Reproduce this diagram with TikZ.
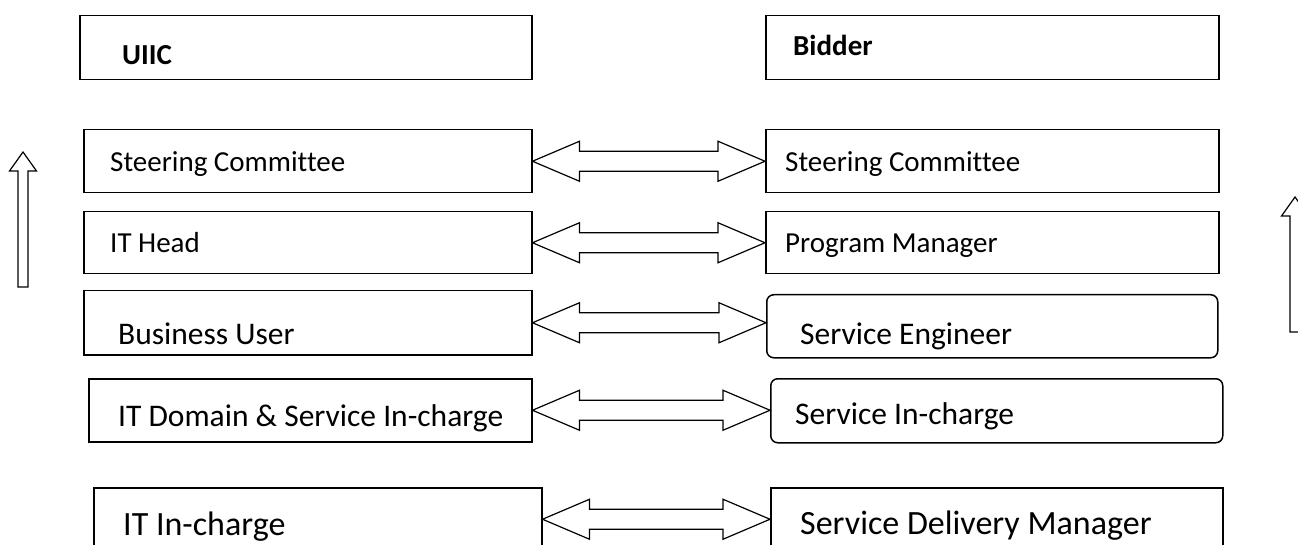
\documentclass[tikz,border=0pt]{standalone}
\usepackage{fontspec}
\setmainfont[Ligatures=NoCommon]{Carlito}
\usepackage{tikz}
\usetikzlibrary{calc}

% hollow two-headed arrow from one box to the other
\newcommand{\twoway}[2]{%
  \draw[hollow] let \p1=(#1.east), \p2=(#2.west) in
    (\x1,\y1) -- ++(47pt,20pt) -- ++(0pt,-10pt) -- (\x2-47pt,\y1+10pt)
    -- ++(0pt,10pt) -- (\x2,\y1) -- ++(-47pt,-20pt) -- ++(0pt,10pt)
    -- (\x1+47pt,\y1-10pt) -- ++(0pt,-10pt) -- cycle;}
% hollow upward arrow: x, tip y, foot y
\newcommand{\uparr}[3]{%
  \draw[hollow] (#1,#2) -- ++(13.5,19) -- ++(-8.5,0) -- (#1+5,#3)
    -- (#1-5,#3) -- (#1-5,#2+19) -- ++(-8.5,0) -- cycle;}

\begin{document}
\begin{tikzpicture}[x=1pt,y=-1pt,line join=miter]
        \tikzstyle{box}=[draw,line width=1.5pt,anchor=north west,inner sep=0pt,
                         minimum height=63pt]
        \tikzstyle{snip}=[box,rounded corners=7pt]
        \tikzstyle{txt}=[anchor=base west,inner sep=0pt,font=\fontsize{29}{34}\selectfont]
        \tikzstyle{txtm}=[txt,font=\fontsize{31.5}{36}\selectfont]
        \tikzstyle{txtl}=[txt,font=\fontsize{34}{38}\selectfont]
        \tikzstyle{head}=[txt,font=\fontsize{29}{32}\selectfont\bfseries]
        \tikzstyle{hollow}=[draw=black,fill=white,line width=1.2pt]

        \useasboundingbox (0,0) rectangle (1298,545);

        % column heads
        \node[box,minimum width=452pt,minimum height=64pt] (uiic)   at (79,15)  {};
        \node[box,minimum width=453pt,minimum height=64pt] (bidder) at (765,15) {};
        \node[head] (uiict)   at (122,65) {UIIC};
        \node[head] (biddert) at (793,56) {Bidder};

        % UIIC side
        \node[box,minimum width=448pt] (lsteer)  at (83,129) {};
        \node[box,minimum width=448pt,minimum height=62pt] (ithead) at (83,211) {};
        \node[box,minimum width=448pt,minimum height=64pt] (bususer) at (83,290) {};
        \node[box,minimum width=443pt] (itdomain) at (88,378) {};
        \node[box,minimum width=448pt] (itinc)    at (93,487) {};

        % bidder side
        \node[box,minimum width=453pt] (rsteer)  at (765,129) {};
        \node[box,minimum width=453pt,minimum height=62pt] (progman) at (765,211) {};
        \node[snip,minimum width=451pt] (serveng) at (766,294) {};
        \node[snip,minimum width=452pt,minimum height=64pt] (servinc) at (770,378) {};
        \node[box,minimum width=452pt] (sdm)     at (770,487) {};

        \node[txt]  (lsteert)   at (110,172) {Steering Committee};
        \node[txt]  (itheadt)   at (110,253) {IT Head};
        \node[txtm] (bususert)  at (118,344) {Business User};
        \node[txtm] (itdomaint) at (118,426) {IT Domain \& Service In-charge};
        \node[txtl] (itinct)    at (123,535) {IT In-charge};

        \node[txt]  (rsteert)   at (785,172) {Steering Committee};
        \node[txt]  (progmant)  at (785,253) {Program Manager};
        \node[txtm] (servengt)  at (800,344) {Service Engineer};
        \node[txtm] (servinct)  at (795,424) {Service In-charge};
        \node[txtl] (sdmt)      at (800,534) {Service Delivery Manager};

        \twoway{lsteer}{rsteer}
        \twoway{ithead}{progman}
        \twoway{bususer}{serveng}
        \twoway{itdomain}{servinc}
        \twoway{itinc}{sdm}

        \uparr{23}{152}{287}
        \uparr{1295}{197}{332}
\end{tikzpicture}
\end{document}
